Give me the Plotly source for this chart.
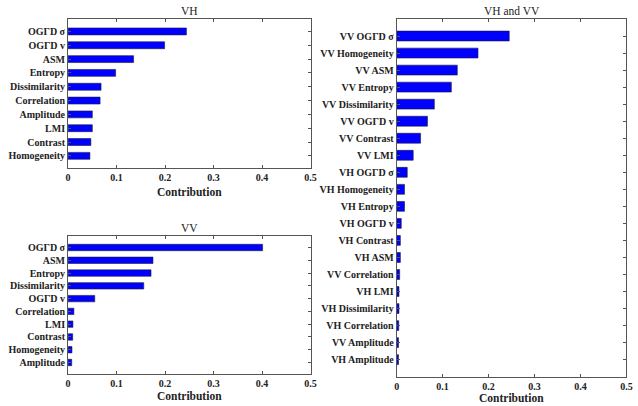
import plotly.graph_objects as go

# Feature contributions, single polarisation VH
vh_features = ["OGΓD σ", "OGΓD v", "ASM", "Entropy", "Dissimilarity",
               "Correlation", "Amplitude", "LMI", "Contrast", "Homogeneity"]
vh_values = [0.244, 0.199, 0.135, 0.098, 0.068, 0.066, 0.050, 0.050, 0.047, 0.045]

# Feature contributions, single polarisation VV
vv_features = ["OGΓD σ", "ASM", "Entropy", "Dissimilarity", "OGΓD v",
               "Correlation", "LMI", "Contrast", "Homogeneity", "Amplitude"]
vv_values = [0.401, 0.175, 0.171, 0.156, 0.055, 0.012, 0.010, 0.0095, 0.008, 0.0075]

# Feature contributions, combined VH and VV
both_features = ["VV OGΓD σ", "VV Homogeneity", "VV ASM", "VV Entropy", "VV Dissimilarity",
                 "VV OGΓD v", "VV Contrast", "VV LMI", "VH OGΓD σ", "VH Homogeneity",
                 "VH Entropy", "VH OGΓD v", "VH Contrast", "VH ASM", "VV Correlation",
                 "VH LMI", "VH Dissimilarity", "VH Correlation", "VV Amplitude", "VH Amplitude"]
both_values = [0.245, 0.177, 0.132, 0.119, 0.082, 0.067, 0.052, 0.036, 0.023, 0.017,
               0.017, 0.010, 0.008, 0.008, 0.0065, 0.005, 0.005, 0.0045, 0.004, 0.004]

x_ticks = [0, 0.1, 0.2, 0.3, 0.4, 0.5]
x_tick_text = ["0", "0.1", "0.2", "0.3", "0.4", "0.5"]

FONT = "Liberation Serif"
TEXT_COLOR = "#222222"
BAR_COLOR = "#0000ff"
EDGE_COLOR = "#1a1a3a"
AXIS_COLOR = "#555555"

W, H = 638, 406

panels = [
    # (names, values, title, x-domain, y-domain, bar width, x-label offset)
    (vh_features, vh_values, "VH", [66 / W, 312 / W], [1 - 168.3 / H, 1 - 19 / H], 0.5, -16),
    (vv_features, vv_values, "VV", [66 / W, 312 / W], [1 - 374 / H, 1 - 236 / H], 0.5, -14),
    (both_features, both_values, "VH and VV", [399.3 / W, 632.3 / W], [1 - 376.7 / H, 1 - 19 / H], 0.58, -13),
]

fig = go.Figure()
layout = dict(
    width=W, height=H,
    margin=dict(l=0, r=0, t=0, b=0),
    paper_bgcolor="white", plot_bgcolor="white",
    showlegend=False,
    font=dict(family=FONT, size=10, color=TEXT_COLOR),
)
annotations = []
bold_tick_font = dict(family=FONT, size=10, color=TEXT_COLOR, weight="bold")

for i, (names, vals, title, xd, yd, bw, lab_shift) in enumerate(panels, start=1):
    n = len(names)
    # categories are placed bottom-up so the first listed is drawn on top
    ypos = [n - k for k in range(n)]
    xa = "x" if i == 1 else f"x{i}"
    ya = "y" if i == 1 else f"y{i}"
    fig.add_trace(go.Bar(
        x=vals, y=ypos, orientation="h", width=bw,
        marker=dict(color=BAR_COLOR, line=dict(color=EDGE_COLOR, width=0.6)),
        xaxis=xa, yaxis=ya, hoverinfo="skip",
    ))
    xkey = "xaxis" if i == 1 else f"xaxis{i}"
    ykey = "yaxis" if i == 1 else f"yaxis{i}"
    pad = 1.0 if n > 10 else 0.9
    layout[xkey] = dict(
        domain=xd, anchor=ya, range=[0, 0.5],
        tickvals=x_ticks, ticktext=x_tick_text,
        ticks="inside", ticklen=3, tickcolor=AXIS_COLOR,
        showline=True, linecolor=AXIS_COLOR, linewidth=1, mirror="ticks",
        showgrid=False, zeroline=False,
        tickfont=bold_tick_font,
    )
    layout[ykey] = dict(
        domain=yd, anchor=xa, range=[1 - pad, n + pad],
        tickvals=ypos, ticktext=names,
        ticks="inside", ticklen=3, tickcolor=AXIS_COLOR,
        showline=True, linecolor=AXIS_COLOR, linewidth=1, mirror="ticks",
        showgrid=False, zeroline=False,
        tickfont=bold_tick_font,
    )
    # panel title
    annotations.append(dict(
        text=title, x=(xd[0] + xd[1]) / 2, y=yd[1], xref="paper", yref="paper",
        xanchor="center", yanchor="bottom", yshift=0, showarrow=False,
        font=dict(family=FONT, size=11.5, color=TEXT_COLOR),
    ))
    # axis label
    annotations.append(dict(
        text="<b>Contribution</b>", x=(xd[0] + xd[1]) / 2, y=yd[0], xref="paper", yref="paper",
        xanchor="center", yanchor="top", yshift=lab_shift, showarrow=False,
        font=dict(family=FONT, size=11.5, color=TEXT_COLOR),
    ))

layout["annotations"] = annotations
fig.update_layout(**layout)
fig.write_html("out.html")
